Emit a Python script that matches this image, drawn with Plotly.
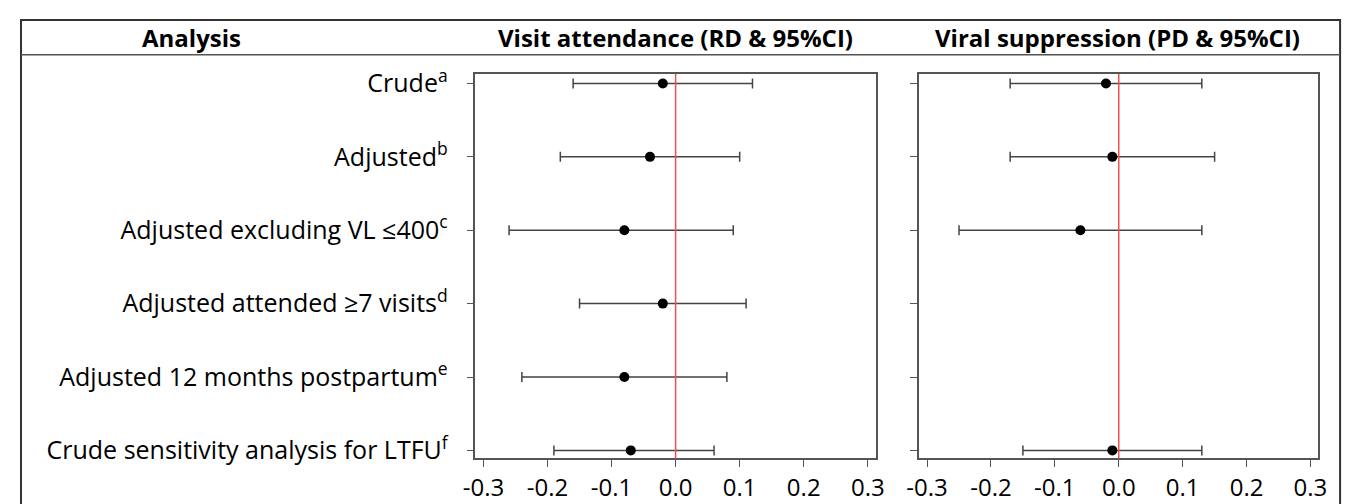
import plotly.graph_objects as go

# ---- data ----
analyses = ["Crude", "Adjusted", "Adjusted excluding VL \u2264400",
            "Adjusted attended \u22657 visits", "Adjusted 12 months postpartum",
            "Crude sensitivity analysis for LTFU"]
footnotes = ["a", "b", "c", "d", "e", "f"]

visit_est = [-0.02, -0.04, -0.08, -0.02, -0.08, -0.07]
visit_lo = [-0.16, -0.18, -0.26, -0.15, -0.24, -0.19]
visit_hi = [0.12, 0.10, 0.09, 0.11, 0.08, 0.06]

viral_est = [-0.02, -0.01, -0.06, None, None, -0.01]
viral_lo = [-0.17, -0.17, -0.25, None, None, -0.15]
viral_hi = [0.13, 0.15, 0.13, None, None, 0.13]

x_ticks = [-0.3, -0.2, -0.1, 0.0, 0.1, 0.2, 0.3]
x_ticktext = ["-0.3", "-0.2", "-0.1", "0.0", "0.1", "0.2", "0.3"]

headers = ["Analysis", "Visit attendance (RD & 95%CI)", "Viral suppression (PD & 95%CI)"]

# page is 1354x504; the plot div sits at an 8px body margin
OFF = 8
W, H = 1354 - OFF, 504 - OFF
FONT = "Open Sans"
GRAY = "#555555"


def err(est, lo, hi):
    plus = [None if e is None else h - e for e, h in zip(est, hi)]
    minus = [None if e is None else e - l for e, l in zip(est, lo)]
    return plus, minus


fig = go.Figure()
for est, lo, hi, xa, ya in [(visit_est, visit_lo, visit_hi, "x", "y"),
                            (viral_est, viral_lo, viral_hi, "x2", "y2")]:
    plus, minus = err(est, lo, hi)
    fig.add_trace(go.Scatter(
        x=est, y=analyses, xaxis=xa, yaxis=ya, mode="markers",
        marker=dict(color="black", size=10),
        error_x=dict(type="data", symmetric=False, array=plus, arrayminus=minus,
                     color="#444444", thickness=1.5, width=5),
        showlegend=False, hoverinfo="skip"))


def px_x(p):
    return (p - OFF) / W


def px_y(p):
    return 1 - (p - OFF) / H


dom1 = [px_x(470), px_x(877)]
dom2 = [px_x(921), px_x(1327)]
ydom = [px_y(464), px_y(65)]
xr = [-0.3125, 0.3125]
yr = [5.11, -0.13]

ticktext_y = [f"{a}<sup>{f}</sup>" for a, f in zip(analyses, footnotes)]

axis_common = dict(showline=True, linecolor=GRAY, linewidth=1.5, mirror=True,
                   showgrid=False, zeroline=False, ticks="outside", ticklen=7,
                   tickcolor=GRAY, tickwidth=1.2)

fig.update_layout(
    width=W, height=H, margin=dict(l=0, r=0, t=0, b=0),
    paper_bgcolor="white", plot_bgcolor="white",
    font=dict(family=FONT, color="black"),
    xaxis=dict(domain=dom1, range=xr, tickvals=x_ticks, ticktext=x_ticktext,
               tickfont=dict(size=24), anchor="y", **axis_common),
    xaxis2=dict(domain=dom2, range=xr, tickvals=x_ticks, ticktext=x_ticktext,
                tickfont=dict(size=24), anchor="y2", **axis_common),
    yaxis=dict(domain=ydom, range=yr, type="category", categoryarray=analyses,
               tickvals=analyses, ticktext=ticktext_y, tickfont=dict(size=25),
               ticklabelstandoff=14, anchor="x", **axis_common),
    yaxis2=dict(domain=ydom, range=yr, type="category", categoryarray=analyses,
                tickvals=analyses, showticklabels=False, anchor="x2", **axis_common),
)

# red reference lines at 0
for xa, ya in [("x", "y"), ("x2", "y2")]:
    fig.add_shape(type="line", xref=xa, yref=f"{ya} domain", x0=0, x1=0, y0=0, y1=1,
                  line=dict(color="#f05050", width=1.5), layer="above")

# outer frame & header rule
fig.add_shape(type="rect", xref="paper", yref="paper",
              x0=px_x(8), x1=px_x(1349), y0=px_y(520), y1=px_y(9),
              line=dict(color="#333333", width=2))
fig.add_shape(type="line", xref="paper", yref="paper",
              x0=px_x(8), x1=px_x(1349), y0=px_y(45), y1=px_y(45),
              line=dict(color="#555555", width=1.5))

header_x = [181, 673, 1123]
for txt, hx in zip(headers, header_x):
    fig.add_annotation(x=px_x(hx), y=px_y(27), xref="paper", yref="paper",
                       text=f"<b>{txt}</b>", showarrow=False,
                       font=dict(size=24, family=FONT), xanchor="center", yanchor="middle")

fig.write_html("out.html")
